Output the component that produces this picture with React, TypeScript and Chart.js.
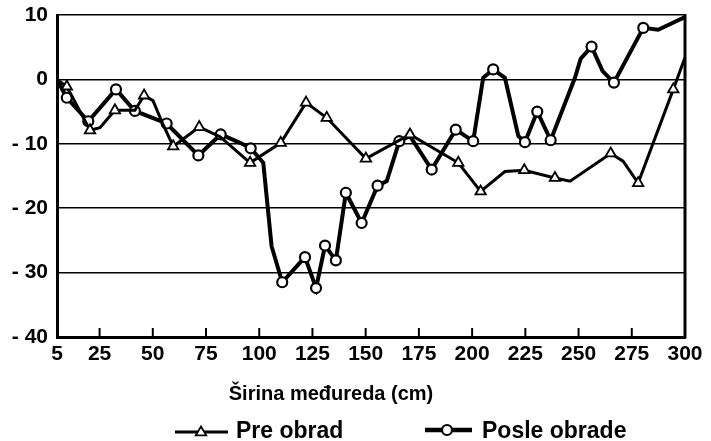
import React, { useEffect, useRef } from 'react';
import { Chart, registerables } from 'chart.js';

Chart.register(...registerables);

// ---- data ----
const preX = [5, 9.6, 20.5, 25.2, 32.2, 41.6, 45.9, 50.1, 54.8, 59.6, 71.8, 81.6, 95.7, 110.1, 122.0, 131.7, 150.1, 170.8, 193.5, 204.0, 215.4, 224.5, 238.9, 246.0, 265.1, 270.9, 278.0, 294.5, 300];
const preY = [0, -1.1, -7.9, -7.5, -4.8, -4.8, -2.5, -3.3, -7.0, -10.4, -7.4, -8.9, -12.95, -9.85, -3.6, -5.96, -12.3, -8.55, -12.95, -17.4, -14.3, -14.1, -15.3, -15.8, -11.5, -12.7, -16.1, -1.55, 3.4];

const posleX = [5, 9.6, 19.7, 32.7, 41.6, 56.5, 71.4, 81.9, 91.0, 96.0, 101.9, 105.8, 110.8, 121.5, 126.7, 130.9, 136.0, 140.7, 148.1, 155.6, 159.9, 165.8, 170.8, 181.0, 192.3, 200.5, 205.2, 209.9, 215.4, 221.7, 224.8, 230.6, 236.9, 248.3, 251.0, 256.1, 261.3, 266.6, 280.4, 287.4, 300];
const posleY = [0, -2.85, -6.5, -1.55, -4.9, -6.85, -11.8, -8.55, -9.85, -10.7, -12.95, -25.9, -31.5, -27.6, -32.4, -25.8, -28.1, -17.6, -22.3, -16.5, -15.8, -9.6, -8.8, -14.0, -7.8, -9.6, 0.25, 1.55, 0.25, -8.8, -9.75, -5.0, -9.45, 0.25, 3.2, 5.1, 1.3, -0.5, 8.0, 7.7, 9.7];

const xTicks = [5, 25, 50, 75, 100, 125, 150, 175, 200, 225, 250, 275, 300];
const yMin = -40;
const yMax = 10;
const yStep = 10;
const xTitle = 'Širina međureda (cm)';
const seriesNames = ['Pre obrad', 'Posle obrade'];

// which vertices carry a marker (style, not data)
const preMarked = new Set([1, 2, 4, 6, 9, 10, 12, 13, 14, 15, 16, 17, 18, 19, 21, 22, 24, 26, 27]);
const posleMarked = new Set([1, 2, 3, 4, 5, 6, 7, 9, 12, 13, 14, 15, 16, 17, 18, 19, 21, 23, 24, 25, 27, 30, 31, 32, 35, 37, 38]);

const FONT = '"Liberation Sans", Arial, Helvetica, sans-serif';

function drawTriangle(ctx: CanvasRenderingContext2D, x: number, y: number, r: number) {
  ctx.beginPath();
  ctx.moveTo(x, y - r);
  ctx.lineTo(x + r * 0.95, y + r * 0.6);
  ctx.lineTo(x - r * 0.95, y + r * 0.6);
  ctx.closePath();
  ctx.fillStyle = '#fff';
  ctx.fill();
  ctx.lineWidth = 1.8;
  ctx.strokeStyle = '#000';
  ctx.stroke();
}

const decorPlugin = {
  id: 'decor',
  afterDatasetsDraw(chart: any) {
    const { ctx, chartArea, scales } = chart;
    ctx.save();
    ctx.strokeStyle = '#000';
    // right border
    ctx.lineWidth = 3;
    ctx.beginPath();
    ctx.moveTo(chartArea.right, chartArea.top - 1);
    ctx.lineTo(chartArea.right, chartArea.bottom + 1);
    ctx.stroke();
    // inner ticks on x axis
    ctx.lineWidth = 2;
    for (const v of xTicks) {
      const x = scales.x.getPixelForValue(v);
      ctx.beginPath();
      ctx.moveTo(x, chartArea.bottom);
      ctx.lineTo(x, chartArea.bottom - 9);
      ctx.stroke();
    }
    ctx.restore();
  },
  afterDraw(chart: any) {
    const { ctx, chartArea } = chart;
    ctx.save();
    ctx.fillStyle = '#000';
    // x axis title
    ctx.font = `bold 20px ${FONT}`;
    ctx.textAlign = 'center';
    ctx.textBaseline = 'alphabetic';
    ctx.fillText(xTitle, chartArea.left + 274, 400);

    // legend
    const ly = 438;
    // Pre obrad
    ctx.strokeStyle = '#000';
    ctx.lineWidth = 3;
    ctx.beginPath();
    ctx.moveTo(175, 432);
    ctx.lineTo(228, 432);
    ctx.stroke();
    drawTriangle(ctx, 201, 432, 5.5);
    ctx.fillStyle = '#000';
    ctx.font = `bold 23px ${FONT}`;
    ctx.textAlign = 'left';
    ctx.fillText(seriesNames[0], 236, ly);

    // Posle obrade
    ctx.lineWidth = 4.5;
    ctx.beginPath();
    ctx.moveTo(425, 430);
    ctx.lineTo(472, 430);
    ctx.stroke();
    ctx.beginPath();
    ctx.arc(447, 430, 5, 0, Math.PI * 2);
    ctx.fillStyle = '#fff';
    ctx.fill();
    ctx.lineWidth = 2.2;
    ctx.stroke();
    ctx.fillStyle = '#000';
    ctx.fillText(seriesNames[1], 482, ly);
    ctx.restore();
  },
};

export default function App() {
  const canvasRef = useRef<HTMLCanvasElement | null>(null);

  useEffect(() => {
    const canvas = canvasRef.current;
    if (!canvas) return;
    const chart = new Chart(canvas, {
      type: 'line',
      data: {
        datasets: [
          {
            label: seriesNames[0],
            data: preX.map((x, i) => ({ x, y: preY[i] })),
            borderColor: '#000',
            borderWidth: 3,
            pointStyle: 'triangle',
            pointRadius: (c: any) => (preMarked.has(c.dataIndex) ? 6 : 0),
            pointBackgroundColor: '#fff',
            pointBorderColor: '#000',
            pointBorderWidth: 1.8,
            tension: 0,
            fill: false,
          },
          {
            label: seriesNames[1],
            data: posleX.map((x, i) => ({ x, y: posleY[i] })),
            borderColor: '#000',
            borderWidth: 4,
            pointStyle: 'circle',
            pointRadius: (c: any) => (posleMarked.has(c.dataIndex) ? 5 : 0),
            pointBackgroundColor: '#fff',
            pointBorderColor: '#000',
            pointBorderWidth: 2.2,
            tension: 0,
            fill: false,
          },
        ],
      },
      options: {
        responsive: false,
        animation: false,
        layout: { padding: { left: 0, right: 26, top: 15, bottom: 0 } },
        plugins: {
          legend: { display: false },
          tooltip: { enabled: false },
        },
        scales: {
          x: {
            type: 'linear',
            min: 5,
            max: 300,
            afterBuildTicks: (scale: any) => {
              scale.ticks = xTicks.map((v) => ({ value: v }));
            },
            afterFit: (scale: any) => {
              scale.height = 104;
              scale.paddingLeft = 0;
              scale.paddingRight = 0;
            },
            grid: { display: false, drawTicks: false },
            border: { display: true, color: '#000', width: 3 },
            ticks: {
              color: '#000',
              font: { family: FONT, size: 21, weight: 'bold' },
              padding: 5,
              maxRotation: 0,
              autoSkip: false,
            },
          },
          y: {
            min: yMin,
            max: yMax,
            afterFit: (scale: any) => {
              scale.width = 57;
              scale.paddingTop = 0;
              scale.paddingBottom = 0;
            },
            grid: { color: '#000', lineWidth: 1.6, drawTicks: false },
            border: { display: true, color: '#000', width: 3 },
            ticks: {
              stepSize: yStep,
              color: '#000',
              padding: 9,
              font: { family: FONT, size: 21, weight: 'bold' },
              callback: (v: any) => (Number(v) < 0 ? '- ' + Math.abs(Number(v)) : String(v)),
            },
          },
        },
      },
      plugins: [decorPlugin],
    } as any);
    return () => chart.destroy();
  }, []);

  return (
    <div style={{ position: 'fixed', left: 0, top: 0, width: 711, height: 441, background: '#fff' }}>
      <canvas ref={canvasRef} width={711} height={441} style={{ display: 'block' }} />
    </div>
  );
}
